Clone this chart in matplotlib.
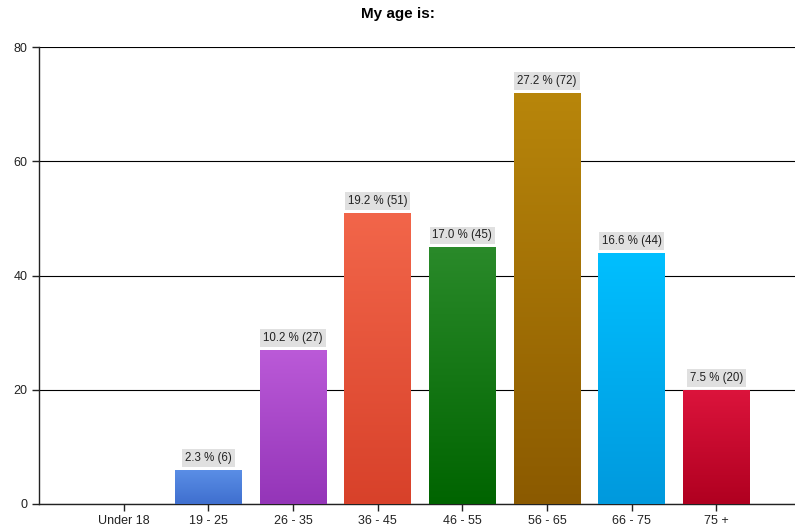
import matplotlib
matplotlib.use("Agg")
import matplotlib.pyplot as plt
import numpy as np
from matplotlib.colors import LinearSegmentedColormap

plt.rcParams['font.family'] = ['Liberation Sans', 'DejaVu Sans']

categories = ["Under 18", "19 - 25", "26 - 35", "36 - 45", "46 - 55", "56 - 65", "66 - 75", "75 +"]
counts = [0, 6, 27, 51, 45, 72, 44, 20]
percents = [0.0, 2.3, 10.2, 19.2, 17.0, 27.2, 16.6, 7.5]
top_colors = ["#5a8ee8", "#5b8fe6", "#bb5ad8", "#f2664a", "#2a8a2a", "#b8860b", "#00bfff", "#dc143c"]
bottom_colors = ["#3f6fcf", "#3f6fcf", "#9435b8", "#d8412a", "#006400", "#8b5a00", "#0099dd", "#b00020"]
yticks = [0, 20, 40, 60, 80]

fig = plt.figure(figsize=(7.95, 5.27), dpi=100)
ax = fig.add_axes([39/795, 1-504/527, (795-39)/795, (504-47)/527])

x = np.arange(len(categories))
width = 0.79
bars = ax.bar(x, counts, width=width, color='none', edgecolor='none', zorder=3)
grad = np.linspace(0, 1, 256).reshape(-1, 1)
for i, b in enumerate(bars):
    h = counts[i]
    if h <= 0:
        continue
    cmap = LinearSegmentedColormap.from_list('g', [bottom_colors[i], top_colors[i]])
    im = ax.imshow(grad, cmap=cmap, aspect='auto', origin='lower',
                   extent=(b.get_x(), b.get_x() + b.get_width(), 0, h), zorder=3)
    im.set_clip_path(b)
    ax.annotate(f"{percents[i]:.1f} % ({h})", (x[i], h), xytext=(0, 4), textcoords='offset points',
                ha='center', va='bottom', fontsize=8.3, color='#222222', zorder=5,
                bbox=dict(boxstyle='square,pad=0.25', facecolor='#e0e0e0', edgecolor='none'))

ax.set_xlim(-1.0, 7.93)
ax.set_ylim(0, 80)
ax.set_yticks(yticks)
ax.set_xticks(x)
ax.set_xticklabels(categories)
ax.grid(axis='y', color='black', linewidth=0.8, zorder=0)
ax.set_axisbelow(True)
for s in ['top', 'right']:
    ax.spines[s].set_visible(False)
for s in ['left', 'bottom']:
    ax.spines[s].set_color('#222222')
    ax.spines[s].set_linewidth(1.0)
ax.tick_params(axis='both', direction='out', length=5, width=1, labelsize=9, colors='#222222')
ax.tick_params(axis='x', pad=3)

fig.text(0.5, 1-14/527, "My age is:", ha='center', va='center', fontsize=11, fontweight='bold')

fig.savefig("out.png", dpi=100)
